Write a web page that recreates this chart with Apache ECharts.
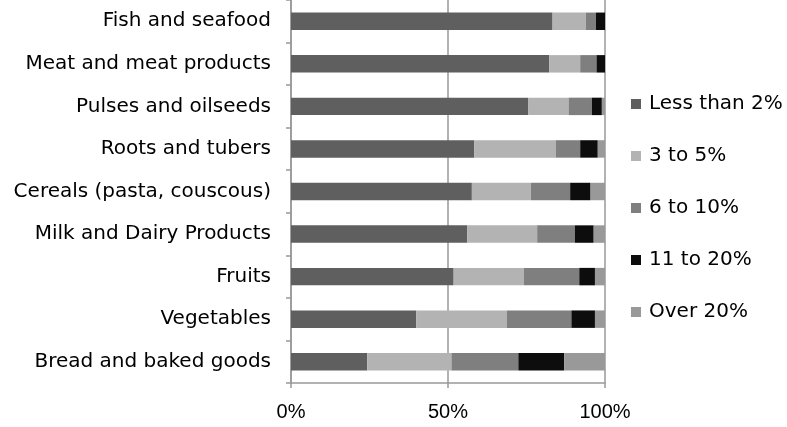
<!DOCTYPE html>
<html><head><meta charset="utf-8">
<script src="https://cdn.jsdelivr.net/npm/echarts@6/dist/echarts.min.js"></script>
<style>html,body{margin:0;padding:0;background:#fff}#c{width:787px;height:427px}</style>
</head><body><div id="c"></div>
<script>
const categories = ["Fish and seafood","Meat and meat products","Pulses and oilseeds","Roots and tubers","Cereals (pasta, couscous)","Milk and Dairy Products","Fruits","Vegetables","Bread and baked goods"];
const seriesNames = ["Less than 2%","3 to 5%","6 to 10%","11 to 20%","Over 20%"];
const lessThan2 = [83.3,82.2,75.5,58.4,57.6,56.1,51.8,39.9,24.3];
const from3to5 = [10.6,9.9,12.9,25.9,18.8,22.3,22.4,28.8,26.8];
const from6to10 = [3.2,5.2,7.4,7.8,12.5,12.0,17.6,20.6,21.3];
const from11to20 = [2.9,2.7,3.2,5.6,6.5,6.0,5.0,7.5,14.6];
const over20 = [0,0,1.0,2.3,4.6,3.6,3.2,3.2,13.0];
const xTicks = [0,50,100];
const colors = ["#5f5f5f","#b3b3b3","#7f7f7f","#0d0d0d","#999999"];
const values = [lessThan2,from3to5,from6to10,from11to20,over20];
const font = "'DejaVu Sans', sans-serif";
const font2 = "'Liberation Sans', Arial, sans-serif";
const chart = echarts.init(document.getElementById('c'));
chart.setOption({
  animation:false,
  color:colors,
  grid:{left:291,right:182,top:0,bottom:44,containLabel:false,outerBoundsMode:'none'},
  legend:{orient:'vertical',left:626,top:89,itemWidth:10,itemHeight:10,itemGap:32,icon:'rect',
    textStyle:{fontFamily:font,fontSize:20,lineHeight:20,color:'#000',padding:[0,0,0,3]},data:seriesNames},
  xAxis:{type:'value',min:0,max:100,interval:50,
    axisLine:{show:true,lineStyle:{color:'#999',width:1.5}},
    axisTick:{show:true,length:5,lineStyle:{color:'#999',width:1.5}},
    splitLine:{show:true,lineStyle:{color:'#999',width:1.5}},
    axisLabel:{formatter:v=>v+'%',fontFamily:font2,fontSize:20,color:'#000',margin:19}},
  yAxis:{type:'category',data:categories,inverse:true,
    axisLine:{show:true,lineStyle:{color:'#999',width:1.5}},
    axisTick:{show:true,length:5,lineStyle:{color:'#999',width:1.5}},
    axisLabel:{fontFamily:font,fontSize:20,color:'#000',margin:20}},
  series:seriesNames.map((n,i)=>({name:n,type:'bar',stack:'all',barWidth:'41%',data:values[i]}))
});
</script></body></html>
